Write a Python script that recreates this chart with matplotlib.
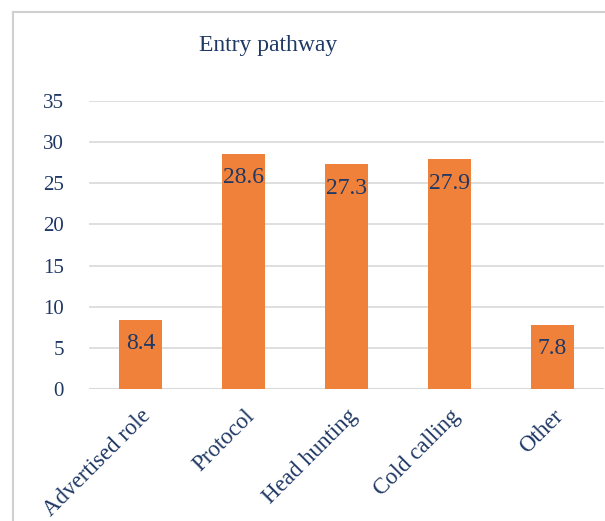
import matplotlib.pyplot as plt
from matplotlib.lines import Line2D

categories = ["Advertised role", "Protocol", "Head hunting", "Cold calling", "Other"]
values = [8.4, 28.6, 27.3, 27.9, 7.8]
yticks = [0, 5, 10, 15, 20, 25, 30, 35]

navy = "#1F3864"
orange = "#F0813B"
grid = "#D9D9D9"
plt.rcParams["font.family"] = ["Liberation Serif", "DejaVu Serif"]


def main():
    fig = plt.figure(figsize=(6.05, 5.21), dpi=100)
    ax = fig.add_axes([89 / 605, 1 - 389 / 521, 515 / 605, 288 / 521])

    x = range(len(categories))
    bars = ax.bar(x, values, width=0.41, color=orange, zorder=3)
    for b, v in zip(bars, values):
        ax.annotate(f"{v}", (b.get_x() + b.get_width() / 2, v),
                    xytext=(0, -24), textcoords="offset pixels",
                    ha="center", va="center", fontsize=17, color=navy, zorder=4)

    ax.set_xlim(-0.5, len(categories) - 0.5)
    ax.set_ylim(0, 35)
    ax.set_yticks(yticks)
    ax.set_yticklabels([str(t) for t in yticks], fontsize=15, color=navy)
    ax.set_xticks(list(x))
    ax.set_xticklabels(categories, rotation=45, ha="right", rotation_mode="anchor",
                       fontsize=16.5, color=navy)
    ax.tick_params(axis="both", length=0)
    ax.tick_params(axis="y", pad=18)
    ax.tick_params(axis="x", pad=12)
    ax.grid(axis="y", color=grid, linewidth=1.2, zorder=0)
    for s in ax.spines.values():
        s.set_visible(False)
    ax.axhline(0, color=grid, linewidth=1.5, zorder=2)

    fig.text(268 / 605, 1 - 45 / 521, "Entry pathway", ha="center", va="center",
             fontsize=17, color=navy)

    # chart frame
    fx, fy = 13 / 605, 1 - 12 / 521
    fig.add_artist(Line2D([fx, fx], [0, fy], color="#D0D0D0", linewidth=1.5,
                          transform=fig.transFigure))
    fig.add_artist(Line2D([fx, 1], [fy, fy], color="#D0D0D0", linewidth=1.5,
                          transform=fig.transFigure))

    fig.savefig("out.png", dpi=100)


if __name__ == "__main__":
    main()
